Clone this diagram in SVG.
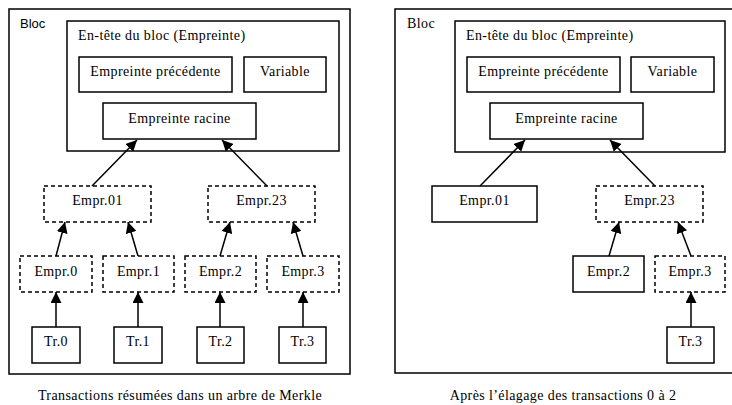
<svg xmlns="http://www.w3.org/2000/svg" width="732" height="405" viewBox="0 0 732 405">
<defs>
<marker id="ah" markerWidth="11" markerHeight="11" viewBox="0 0 11 11" refX="11" refY="5.5" orient="auto" markerUnits="userSpaceOnUse">
<path d="M0,0 L11,5.5 L0,11 z" fill="#000"/>
</marker>
<style>
.b{fill:#fff;stroke:#000;stroke-width:1.5}
.d{fill:#fff;stroke:#000;stroke-width:1.5;stroke-dasharray:4 3}
.t{font-family:"Liberation Serif",serif;font-size:14px;letter-spacing:0.4px;fill:#000;text-anchor:middle}
.tl{font-family:"Liberation Serif",serif;font-size:14px;letter-spacing:0.4px;fill:#000}
.s{font-family:"Liberation Sans",sans-serif;font-size:13px;fill:#000}
.c{stroke:#000;stroke-width:1.5;fill:none;marker-end:url(#ah)}
</style>
</defs>
<rect width="732" height="405" fill="#fff"/>
<!-- Left panel -->
<g id="bloc1"><rect class="b" x="9" y="9" width="341" height="365"/><text class="s" x="20" y="28">Bloc</text></g>
<g id="entete1"><rect class="b" x="67" y="21" width="272" height="130"/><text class="tl" x="78" y="40">En-tête du bloc (Empreinte)</text></g>
<g id="prec1"><rect class="b" x="79" y="57" width="153" height="35"/><text class="t" x="155.5" y="76">Empreinte précédente</text></g>
<g id="var1"><rect class="b" x="244" y="57" width="82" height="35"/><text class="t" x="285" y="76">Variable</text></g>
<g id="racine1"><rect class="b" x="103" y="103" width="153" height="36"/><text class="t" x="179.5" y="123">Empreinte racine</text></g>
<g id="e01a"><rect class="d" x="44" y="186" width="107" height="36"/><text class="t" x="97.5" y="205">Empr.01</text></g>
<g id="e23a"><rect class="d" x="208" y="186" width="107" height="36"/><text class="t" x="261.5" y="205">Empr.23</text></g>
<g id="e0a"><rect class="d" x="20" y="256" width="72" height="36"/><text class="t" x="56" y="276">Empr.0</text></g>
<g id="e1a"><rect class="d" x="103" y="256" width="71" height="36"/><text class="t" x="138.5" y="276">Empr.1</text></g>
<g id="e2a"><rect class="d" x="185" y="256" width="71" height="36"/><text class="t" x="220.5" y="276">Empr.2</text></g>
<g id="e3a"><rect class="d" x="267" y="256" width="72" height="36"/><text class="t" x="303" y="276">Empr.3</text></g>
<g id="tr0a"><rect class="b" x="32" y="327" width="48" height="36"/><text class="t" x="56" y="346">Tr.0</text></g>
<g id="tr1a"><rect class="b" x="114" y="327" width="48" height="36"/><text class="t" x="138" y="346">Tr.1</text></g>
<g id="tr2a"><rect class="b" x="197" y="327" width="47" height="36"/><text class="t" x="220.5" y="346">Tr.2</text></g>
<g id="tr3a"><rect class="b" x="279" y="327" width="47" height="36"/><text class="t" x="302.5" y="346">Tr.3</text></g>
<text class="t" x="180" y="400">Transactions résumées dans un arbre de Merkle</text>
<!-- Right panel -->
<g id="bloc2"><rect class="b" x="395" y="9" width="345" height="364"/><text class="tl" x="407" y="28">Bloc</text></g>
<g id="entete2"><rect class="b" x="455" y="21" width="270" height="131"/><text class="tl" x="466" y="40">En-tête du bloc (Empreinte)</text></g>
<g id="prec2"><rect class="b" x="467" y="57" width="153" height="35"/><text class="t" x="543.5" y="76">Empreinte précédente</text></g>
<g id="var2"><rect class="b" x="631" y="57" width="83" height="35"/><text class="t" x="672.5" y="76">Variable</text></g>
<g id="racine2"><rect class="b" x="490" y="103" width="153" height="36"/><text class="t" x="566.5" y="123">Empreinte racine</text></g>
<g id="e01b"><rect class="b" x="432" y="186" width="105" height="36"/><text class="t" x="484.5" y="205">Empr.01</text></g>
<g id="e23b"><rect class="d" x="596" y="186" width="107" height="36"/><text class="t" x="649.5" y="205">Empr.23</text></g>
<g id="e2b"><rect class="b" x="573" y="256" width="71" height="36"/><text class="t" x="608.5" y="276">Empr.2</text></g>
<g id="e3b"><rect class="d" x="655" y="256" width="70" height="36"/><text class="t" x="690" y="276">Empr.3</text></g>
<g id="tr3b"><rect class="b" x="667" y="327" width="47" height="36"/><text class="t" x="690.5" y="346">Tr.3</text></g>
<text class="t" x="563" y="400">Après l’élagage des transactions 0 à 2</text>
<!-- Connectors -->
<g id="connectors">
<line class="c" x1="92" y1="186" x2="137" y2="140"/>
<line class="c" x1="267" y1="186" x2="222" y2="140"/>
<line class="c" x1="56" y1="256" x2="65" y2="222"/>
<line class="c" x1="138" y1="256" x2="128" y2="222"/>
<line class="c" x1="220" y1="256" x2="230" y2="222"/>
<line class="c" x1="303" y1="256" x2="293" y2="222"/>
<line class="c" x1="56" y1="327" x2="56" y2="292"/>
<line class="c" x1="138" y1="327" x2="138" y2="292"/>
<line class="c" x1="220" y1="327" x2="220" y2="292"/>
<line class="c" x1="303" y1="327" x2="303" y2="292"/>
<line class="c" x1="480" y1="186" x2="525" y2="140"/>
<line class="c" x1="655" y1="186" x2="610" y2="140"/>
<line class="c" x1="609" y1="256" x2="619" y2="222"/>
<line class="c" x1="691" y1="256" x2="678" y2="222"/>
<line class="c" x1="691" y1="327" x2="691" y2="292"/>
</g>
</svg>
